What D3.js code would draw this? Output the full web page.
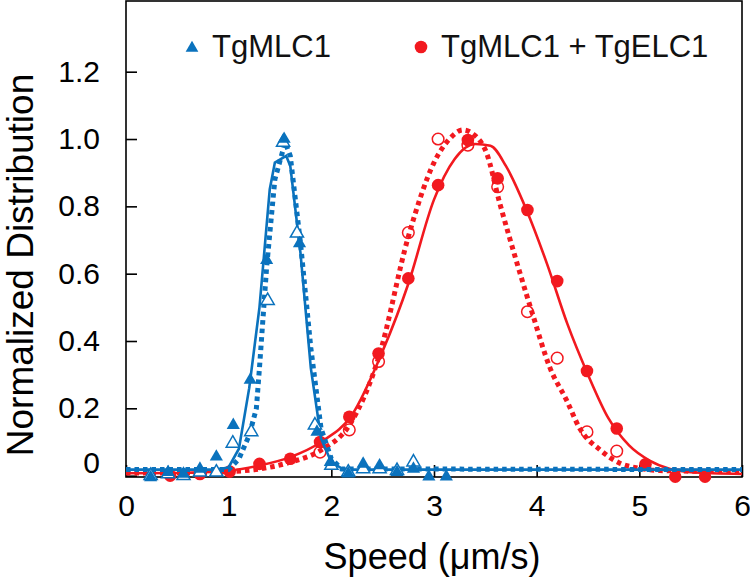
<!DOCTYPE html>
<html>
<head>
<meta charset="utf-8">
<script src="https://cdn.jsdelivr.net/npm/d3@7"></script>
<style>
html,body{margin:0;padding:0;background:#fff;}
svg{display:block;font-family:"Liberation Sans",Arial,sans-serif;}
</style>
</head>
<body>
<svg id="chart" width="750" height="582"></svg>
<script>
// ---- data ----
const xTicks = [0, 1, 2, 3, 4, 5, 6];
const yTicks = [0, 0.2, 0.4, 0.6, 0.8, 1.0, 1.2];
const yTickLabels = ["0", "0.2", "0.4", "0.6", "0.8", "1.0", "1.2"];
const seriesNames = ["TgMLC1", "TgMLC1 + TgELC1"];

// TgMLC1 filled triangles
const mlcFilledX = [0.24,0.41,0.56,0.72,0.88,1.045,1.21,1.37,1.54,1.69,1.86,1.99,2.165,2.31,2.47,2.64,2.80,2.95,3.12];
const mlcFilledY = [-0.005,0.01,0.005,0.02,0.056,0.15,0.284,0.64,1.0,0.69,0.13,0.04,0.006,0.035,0.03,0.01,0.02,-0.003,-0.003];
// TgMLC1 open triangles
const mlcOpenX = [0.24,0.41,0.56,0.72,0.88,1.04,1.22,1.38,1.53,1.665,1.84,2.0,2.165,2.31,2.47,2.64,2.80];
const mlcOpenY = [0.0,0.005,0.0,0.01,0.01,0.096,0.13,0.52,0.99,0.72,0.15,0.03,0.01,0.02,0.02,0.015,0.04];
// TgMLC1 fit curves
const mlcFitSolidX = [0,0.9,1.0,1.1,1.2,1.3,1.4,1.45,1.56,1.6,1.7,1.8,1.9,2.0,2.1,2.2,6];
const mlcFitSolidY = [0.018,0.018,0.025,0.08,0.26,0.5,0.85,0.93,0.95,0.92,0.66,0.32,0.11,0.04,0.022,0.018,0.018];
const mlcFitDotX = [0,1.0,1.1,1.2,1.27,1.3,1.37,1.45,1.55,1.6,1.7,1.8,1.9,2.0,2.1,6];
const mlcFitDotY = [0.018,0.018,0.05,0.12,0.2,0.32,0.62,0.88,0.99,0.95,0.69,0.38,0.14,0.05,0.02,0.018];

// TgMLC1 + TgELC1 filled circles
const elcFilledX = [0.43,0.72,1.01,1.30,1.60,1.89,2.175,2.46,2.75,3.04,3.33,3.62,3.91,4.20,4.49,4.78,5.06,5.35,5.64];
const elcFilledY = [0.0,0.005,0.012,0.035,0.05,0.10,0.175,0.363,0.586,0.863,0.997,0.883,0.789,0.578,0.311,0.14,0.034,-0.003,-0.003];
// TgMLC1 + TgELC1 open circles
const elcOpenX = [1.89,2.175,2.46,2.75,3.04,3.33,3.62,3.91,4.20,4.49,4.78];
const elcOpenY = [0.07,0.136,0.339,0.722,1.0,0.982,0.858,0.487,0.349,0.13,0.073];
// TgMLC1 + TgELC1 fit curves
const elcFitSolidX = [0,0.5,1.0,1.3,1.6,1.9,2.2,2.5,2.75,3.0,3.2,3.4,3.55,3.7,3.9,4.1,4.3,4.5,4.7,4.9,5.1,5.3,5.5,6];
const elcFitSolidY = [0.007,0.008,0.015,0.03,0.055,0.1,0.18,0.37,0.57,0.82,0.94,0.985,0.98,0.92,0.79,0.63,0.45,0.3,0.17,0.09,0.045,0.02,0.01,0.005];
const elcFitDotX = [0,0.5,1.0,1.3,1.6,1.9,2.175,2.46,2.75,3.0,3.15,3.28,3.4,3.51,3.64,3.8,3.96,4.13,4.29,4.42,4.62,4.81,5.0,5.2,6];
const elcFitDotY = [0.008,0.008,0.012,0.02,0.04,0.076,0.15,0.35,0.71,0.93,1.0,1.027,1.01,0.96,0.81,0.64,0.48,0.32,0.225,0.14,0.076,0.037,0.022,0.015,0.012];

// ---- drawing ----
const blue = "#0a72bd";
const red = "#f2191f";
const svg = d3.select("#chart");
const x = d3.scaleLinear().domain([0, 6]).range([126, 742]);
const y = d3.scaleLinear().domain([-0.004, 1.41]).range([477, 1]);

// plot frame
svg.append("rect")
  .attr("x", x(0)).attr("y", y(1.41))
  .attr("width", x(6) - x(0)).attr("height", y(-0.004) - y(1.41))
  .attr("fill", "none").attr("stroke", "#000").attr("stroke-width", 1.6);

// axes
const xAxis = svg.append("g").attr("transform", `translate(0,${y(-0.004)})`)
  .call(d3.axisBottom(x).tickValues(xTicks).tickFormat(d3.format("d"))
    .tickSizeInner(-12).tickSizeOuter(0).tickPadding(18));
const yAxis = svg.append("g").attr("transform", `translate(${x(0)},0)`)
  .call(d3.axisLeft(y).tickValues(yTicks).tickFormat((d, i) => yTickLabels[i])
    .tickSizeInner(-11).tickSizeOuter(0).tickPadding(26));
[xAxis, yAxis].forEach(g => {
  g.select(".domain").remove();
  g.selectAll(".tick line").attr("stroke", "#000").attr("stroke-width", 1.6);
  g.selectAll(".tick text").attr("fill", "#000").style("font-size", "30px")
    .style("font-family", "'Liberation Sans', Arial, sans-serif");
});
yAxis.selectAll(".tick text").filter(d => d === 0).attr("dy", "-0.11em");

// axis titles
svg.append("text").attr("x", 432).attr("y", 569).attr("text-anchor", "middle")
  .style("font-size", "36px").attr("fill", "#000").text("Speed (\u03bcm/s)");
svg.append("text").attr("transform", "translate(33,265) rotate(-90)")
  .attr("text-anchor", "middle").style("font-size", "37px").attr("fill", "#000")
  .text("Normalized Distribution");

const zip = (xs, ys) => xs.map((v, i) => [v, ys[i]]);
const lineLin = d3.line().x(d => x(d[0])).y(d => y(d[1]));
const lineSmooth = d3.line().x(d => x(d[0])).y(d => y(d[1])).curve(d3.curveMonotoneX);

const plot = svg.append("g");
// red series (drawn first)
plot.append("path").datum(zip(elcFitSolidX, elcFitSolidY)).attr("d", lineSmooth)
  .attr("fill", "none").attr("stroke", red).attr("stroke-width", 2.6);
plot.append("path").datum(zip(elcFitDotX, elcFitDotY)).attr("d", lineSmooth)
  .attr("fill", "none").attr("stroke", red).attr("stroke-width", 5).attr("stroke-dasharray", "4.5,4");
plot.selectAll(".elcF").data(zip(elcFilledX, elcFilledY)).join("circle")
  .attr("cx", d => x(d[0])).attr("cy", d => y(d[1])).attr("r", 6.3).attr("fill", red);
plot.selectAll(".elcO").data(zip(elcOpenX, elcOpenY)).join("circle")
  .attr("cx", d => x(d[0])).attr("cy", d => y(d[1])).attr("r", 5.8)
  .attr("fill", "none").attr("stroke", red).attr("stroke-width", 1.5);

// blue series
const tri = d3.symbol().type(d3.symbolTriangle).size(75);
plot.append("path").datum(zip(mlcFitSolidX, mlcFitSolidY)).attr("d", lineLin)
  .attr("fill", "none").attr("stroke", blue).attr("stroke-width", 2.6);
plot.append("path").datum(zip(mlcFitDotX, mlcFitDotY)).attr("d", lineLin)
  .attr("fill", "none").attr("stroke", blue).attr("stroke-width", 5).attr("stroke-dasharray", "4.5,4");
plot.selectAll(".mlcO").data(zip(mlcOpenX, mlcOpenY)).join("path")
  .attr("transform", d => `translate(${x(d[0])},${y(d[1])})`).attr("d", tri)
  .attr("fill", "#fff").attr("stroke", blue).attr("stroke-width", 1.5);
plot.selectAll(".mlcF").data(zip(mlcFilledX, mlcFilledY)).join("path")
  .attr("transform", d => `translate(${x(d[0])},${y(d[1])})`).attr("d", tri)
  .attr("fill", blue);

// legend
const legend = svg.append("g");
legend.append("path").attr("transform", "translate(192,48)")
  .attr("d", d3.symbol().type(d3.symbolTriangle).size(70)).attr("fill", blue);
legend.append("text").attr("x", 212).attr("y", 57).style("font-size", "31px")
  .attr("fill", "#111").text(seriesNames[0]);
legend.append("circle").attr("cx", 421).attr("cy", 47).attr("r", 6.3).attr("fill", red);
legend.append("text").attr("x", 441).attr("y", 57).style("font-size", "31px")
  .attr("fill", "#111").text(seriesNames[1]);
</script>
</body>
</html>
